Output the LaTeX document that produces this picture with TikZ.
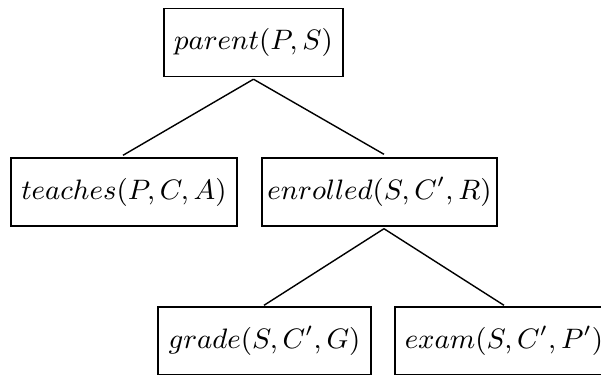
\documentclass[tikz,border=0pt]{standalone}
\usetikzlibrary{calc}
\begin{document}
\begin{tikzpicture}[x=0.32pt,y=-0.32pt,
  term/.style={draw, line width=0.45pt, inner sep=0pt, minimum height=68*0.32pt,
               font=\fontsize{9.2}{11}\selectfont},
  edge/.style={line width=0.45pt}]
\useasboundingbox (0,0) rectangle (601,374);
\clip (0,0) rectangle (601,374);
% predicate nodes
\node[term, minimum width=179*0.32pt] (parent)   at (253.5,42.5) {$parent(P,S)$};
\node[term, minimum width=226*0.32pt] (teaches)  at (124,192)    {$teaches(P,C,A)$};
\node[term, minimum width=235*0.32pt] (enrolled) at (379.5,192)  {$enrolled(S,C',R)$};
\node[term, minimum width=213*0.32pt] (grade)    at (264.5,341)  {$grade(S,C',G)$};
\node[term, minimum width=218*0.32pt] (exam)     at (504,341)    {$exam(S,C',P')$};
% branch points
\coordinate (p-bot) at ($(parent.south)+(0,2)$);
\coordinate (e-top) at ($(enrolled.north)+(4.5,-3)$);
\coordinate (e-bot) at ($(enrolled.south)+(4.5,2)$);
% tree edges
\draw[edge] (p-bot) -- ($(teaches.north)+(-1,-2)$);
\draw[edge] (p-bot) -- (e-top);
\draw[edge] (e-bot) -- ($(grade.north)+(-0.5,-1)$);
\draw[edge] (e-bot) -- ($(exam.north)+(0,-1)$);
\end{tikzpicture}
\end{document}
